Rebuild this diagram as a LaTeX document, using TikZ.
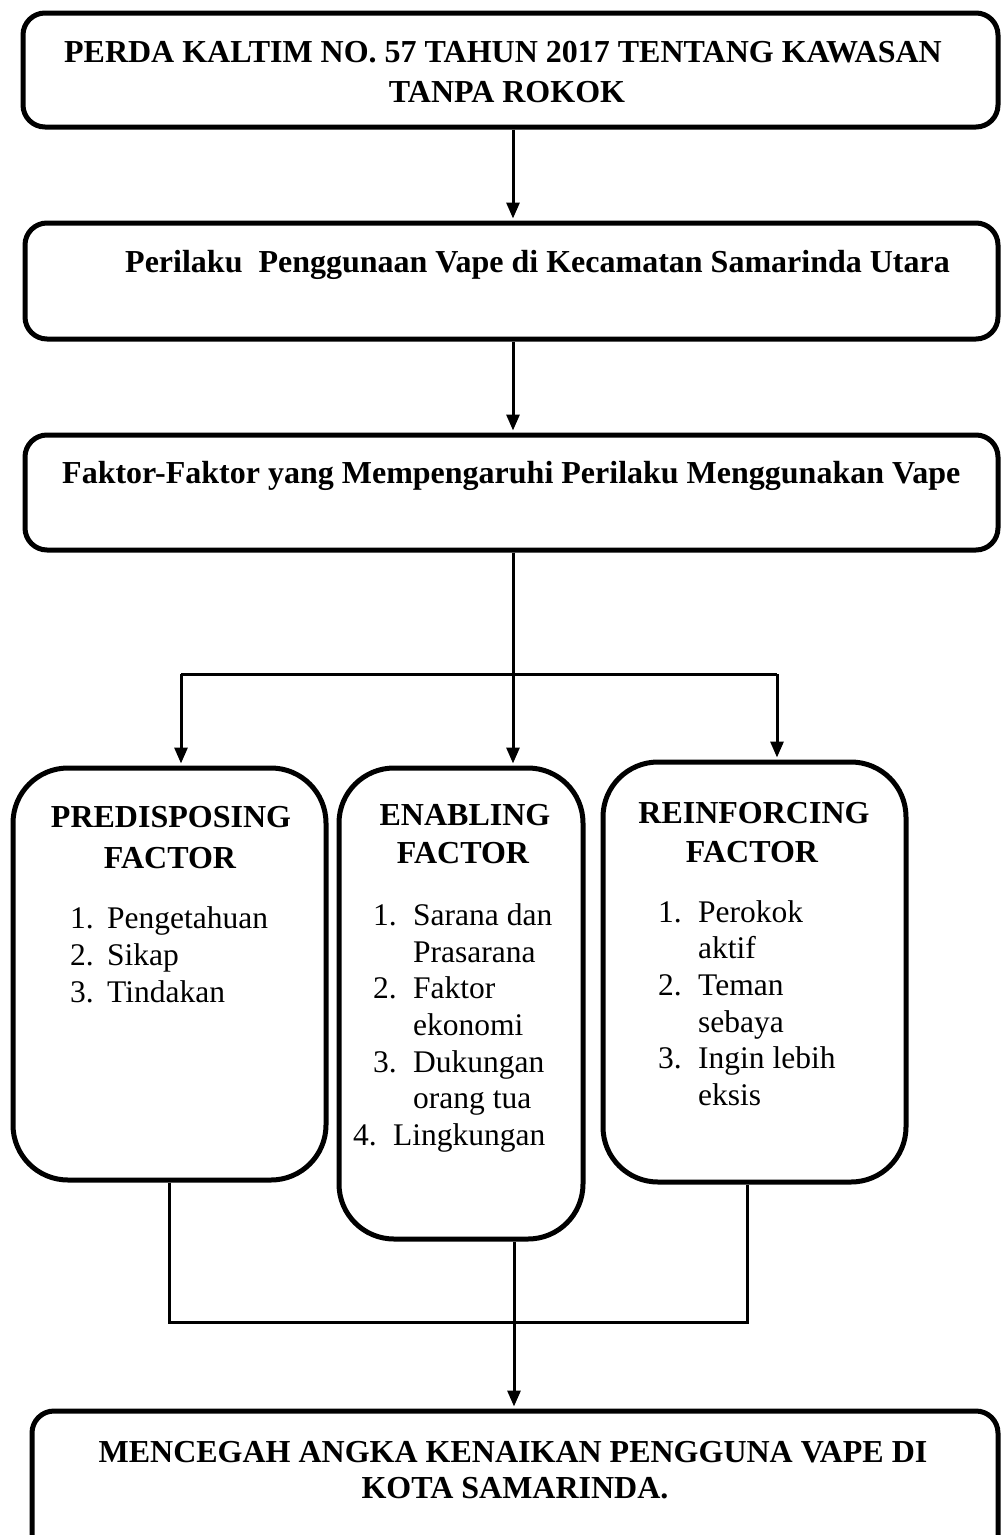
\documentclass[tikz,border=0pt]{standalone}
\usepackage{fontspec}
\setmainfont{Liberation Serif}
\usetikzlibrary{arrows.meta}
\tikzset{
  box/.style={draw, line width=5pt, rounded corners=22pt, inner sep=0pt, fill=white},
  fbox/.style={draw, line width=5pt, rounded corners=55pt, inner sep=0pt, fill=white},
  conn/.style={line width=3pt},
  arr/.style={line width=3pt, -{Triangle[length=16pt,width=13pt]}, shorten >=2pt},
  ttl/.style={inner sep=0pt, anchor=base, font=\fontsize{32}{38}\selectfont\bfseries},
  ttlw/.style={inner sep=0pt, anchor=base west, font=\fontsize{32}{38}\selectfont\bfseries},
  itm/.style={inner sep=0pt, anchor=base west, font=\fontsize{31.5}{37}\selectfont}
}
\begin{document}
\begin{tikzpicture}[x=1pt,y=-1pt]
\useasboundingbox (0,0) rectangle (1001,1535);
\clip (0,0) rectangle (1001,1535);
\fill[white] (0,0) rectangle (1001,1535);

% boxes
\node[box, minimum width=975pt, minimum height=114pt] (b1) at (510.5,70) {};
\node[box, minimum width=973pt, minimum height=116pt] (b2) at (511.5,281) {};
\node[box, minimum width=973pt, minimum height=115pt] (b3) at (511.5,492.5) {};
\node[fbox, minimum width=313pt, minimum height=412pt] (bL) at (169.5,974) {};
\node[fbox, minimum width=244pt, minimum height=471pt] (bM) at (461,1003.5) {};
\node[fbox, minimum width=303pt, minimum height=420pt] (bR) at (754.5,972) {};
\node[box, minimum width=966pt, minimum height=189pt] (b5) at (515,1505.5) {};

% connectors
\coordinate (mx) at (513,0);
\coordinate (mx2) at (514,0);
\coordinate (fl) at (181,674);
\coordinate (fr) at (777,674);
\coordinate (jl) at (169,1322);
\coordinate (jr) at (747,1322);
\draw[arr] (b1.south -| mx) -- (b2.north -| mx);
\draw[arr] (b2.south -| mx) -- (b3.north -| mx);
\draw[arr] (b3.south -| mx) -- (bM.north -| mx);
\draw[conn] (fl) -- (fr);
\draw[arr] (fl) -- (fl |- bL.north);
\draw[arr] (fr) -- (fr |- bR.north);
\draw[conn] (bL.south -| jl) -- (jl) -- (jr) -- (bR.south -| jr);
\draw[arr] (bM.south -| mx2) -- (b5.north -| mx2);

% texts
\node[ttl] (t1a) at (503,62) {PERDA KALTIM NO. 57 TAHUN 2017 TENTANG KAWASAN};
\node[ttl] (t1b) at (507,102) {TANPA ROKOK};
\node[ttlw] (t2) at (125,272) {Perilaku\ \ Penggunaan Vape di Kecamatan Samarinda Utara};
\node[ttlw] (t3) at (62,483) {Faktor-Faktor yang Mempengaruhi Perilaku Menggunakan Vape};

\node[ttl] (hL1) at (171,827) {PREDISPOSING};
\node[ttl] (hL2) at (170,868) {FACTOR};
\node[itm] (nL1) at (70,928) {1.};
\node[itm] (iL1) at (107,928) {Pengetahuan};
\node[itm] (nL2) at (70,965) {2.};
\node[itm] (iL2) at (107,965) {Sikap};
\node[itm] (nL3) at (70,1002) {3.};
\node[itm] (iL3) at (107,1002) {Tindakan};

\node[ttl] (hM1) at (465,825) {ENABLING};
\node[ttl] (hM2) at (463,863) {FACTOR};
\node[itm] (nM1) at (373,925) {1.};
\node[itm] (iM1) at (413,925) {Sarana dan};
\node[itm] (iM1b) at (413,962) {Prasarana};
\node[itm] (nM2) at (373,998) {2.};
\node[itm] (iM2) at (413,998) {Faktor};
\node[itm] (iM2b) at (413,1035) {ekonomi};
\node[itm] (nM3) at (373,1072) {3.};
\node[itm] (iM3) at (413,1072) {Dukungan};
\node[itm] (iM3b) at (413,1108) {orang tua};
\node[itm] (nM4) at (353,1145) {4.};
\node[itm] (iM4) at (393,1145) {Lingkungan};

\node[ttl] (hR1) at (754,823) {REINFORCING};
\node[ttl] (hR2) at (752,862) {FACTOR};
\node[itm] (nR1) at (658,922) {1.};
\node[itm] (iR1) at (698,922) {Perokok};
\node[itm] (iR1b) at (698,958) {aktif};
\node[itm] (nR2) at (658,995) {2.};
\node[itm] (iR2) at (698,995) {Teman};
\node[itm] (iR2b) at (698,1032) {sebaya};
\node[itm] (nR3) at (658,1068) {3.};
\node[itm] (iR3) at (698,1068) {Ingin lebih};
\node[itm] (iR3b) at (698,1105) {eksis};

\node[ttl] (t5a) at (513,1462) {MENCEGAH ANGKA KENAIKAN PENGGUNA VAPE DI};
\node[ttl] (t5b) at (515,1498) {KOTA SAMARINDA.};
\end{tikzpicture}
\end{document}
